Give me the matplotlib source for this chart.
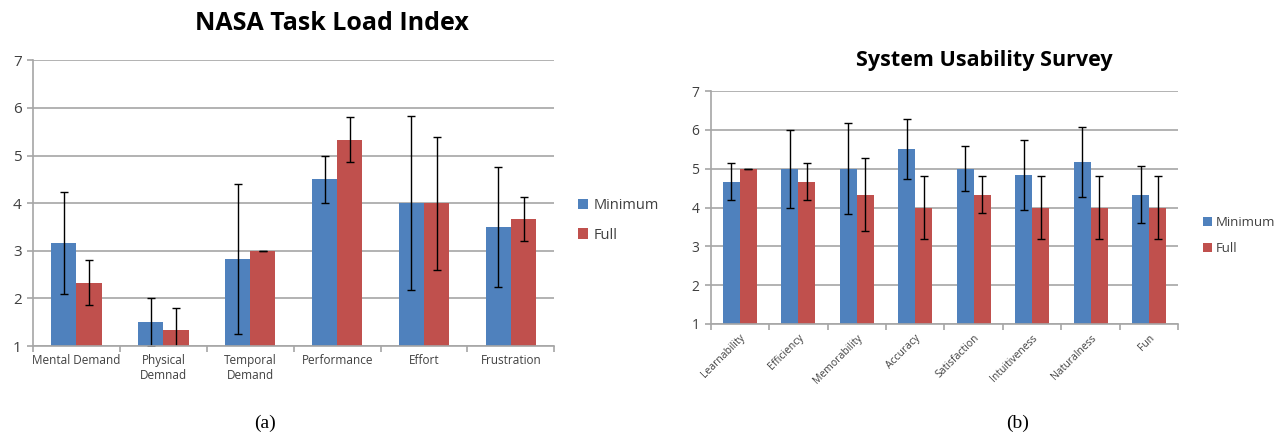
import numpy as np
import matplotlib.pyplot as plt

# NASA TLX data
tlx_cats = ['Mental Demand', 'Physical\nDemnad', 'Temporal\nDemand', 'Performance', 'Effort', 'Frustration']
tlx_min = [3.17, 1.5, 2.83, 4.5, 4.0, 3.5]
tlx_min_err = [1.07, 0.5, 1.57, 0.5, 1.83, 1.25]
tlx_full = [2.33, 1.33, 3.0, 5.33, 4.0, 3.67]
tlx_full_err = [0.47, 0.47, 0.0, 0.47, 1.4, 0.47]

# SUS data
sus_cats = ['Learnability', 'Efficiency', 'Memorability', 'Accuracy', 'Satisfaction',
            'Intuitiveness', 'Naturalness', 'Fun']
sus_min = [4.67, 5.0, 5.0, 5.5, 5.0, 4.83, 5.17, 4.33]
sus_min_err = [0.48, 1.0, 1.17, 0.77, 0.58, 0.9, 0.9, 0.73]
sus_full = [5.0, 4.67, 4.33, 4.0, 4.33, 4.0, 4.0, 4.0]
sus_full_err = [0.0, 0.48, 0.94, 0.82, 0.48, 0.82, 0.82, 0.82]

blue = '#4F81BD'
red = '#C0504D'
grid_c = '#A6A6A6'
txt_c = '#404040'
font = ['Open Sans', 'DejaVu Sans']
plt.rcParams['font.family'] = font


def draw(ax, cats, vmin, emin, vfull, efull, bw, tick_fs, ylab_fs, rot):
    x = np.arange(len(cats))
    ax.set_ylim(1, 7)
    ax.set_xlim(-0.5, len(cats) - 0.5)
    ax.set_yticks(range(1, 8))
    ax.yaxis.grid(True, color=grid_c, lw=1.2)
    ax.set_axisbelow(True)
    ekw = dict(ecolor='black', elinewidth=1, capsize=3, capthick=1)
    ax.bar(x - bw / 2, vmin, bw, yerr=emin, color=blue, label='Minimum', error_kw=ekw)
    ax.bar(x + bw / 2, vfull, bw, yerr=efull, color=red, label='Full', error_kw=ekw)
    for s in ['top', 'right']:
        ax.spines[s].set_visible(False)
    for s in ['left', 'bottom']:
        ax.spines[s].set_color(grid_c)
        ax.spines[s].set_linewidth(1.2)
    ax.set_xticks(x)
    if rot:
        ax.set_xticklabels(cats, rotation=45, ha='right', rotation_mode='anchor',
                           fontsize=tick_fs, color=txt_c)
    else:
        ax.set_xticklabels(cats, fontsize=tick_fs, color=txt_c)
    ax.tick_params(axis='x', length=0, pad=6)
    ax.set_xticks(np.arange(len(cats) + 1) - 0.5, minor=True)
    ax.tick_params(axis='x', which='minor', length=4, color=grid_c, width=1.2)
    ax.tick_params(axis='y', length=4, color=grid_c, width=1.2, labelsize=ylab_fs,
                   labelcolor=txt_c, pad=4)


fig = plt.figure(figsize=(12.78, 4.37), dpi=100)

ax1 = fig.add_axes([0.0258, 0.208, 0.408, 0.654])
draw(ax1, tlx_cats, tlx_min, tlx_min_err, tlx_full, tlx_full_err, 0.29, 8.5, 11, False)
ax1.set_title('NASA Task Load Index', fontsize=18, fontweight='bold', color='black',
              pad=22, x=0.573)
ax1.legend(loc='center left', bbox_to_anchor=(1.02, 0.44), frameon=False, fontsize=10.5,
           handlelength=0.7, handleheight=0.7, handletextpad=0.4, labelspacing=1.0,
           labelcolor=txt_c)

ax2 = fig.add_axes([0.556, 0.2586, 0.366, 0.533])
draw(ax2, sus_cats, sus_min, sus_min_err, sus_full, sus_full_err, 0.29, 7.5, 10, True)
ax2.set_title('System Usability Survey', fontsize=15.5, fontweight='bold', color='black',
              pad=18, x=0.585)
ax2.legend(loc='center left', bbox_to_anchor=(1.035, 0.38), frameon=False, fontsize=9.5,
           handlelength=0.7, handleheight=0.7, handletextpad=0.3, labelspacing=1.0,
           labelcolor=txt_c, borderaxespad=0.2)

fig.text(265 / 1278, 1 - 423 / 437, '(a)', ha='center', va='center', fontsize=14,
         family='Liberation Serif')
fig.text(1018 / 1278, 1 - 423 / 437, '(b)', ha='center', va='center', fontsize=14,
         family='Liberation Serif')

fig.savefig('out.png', dpi=100)
